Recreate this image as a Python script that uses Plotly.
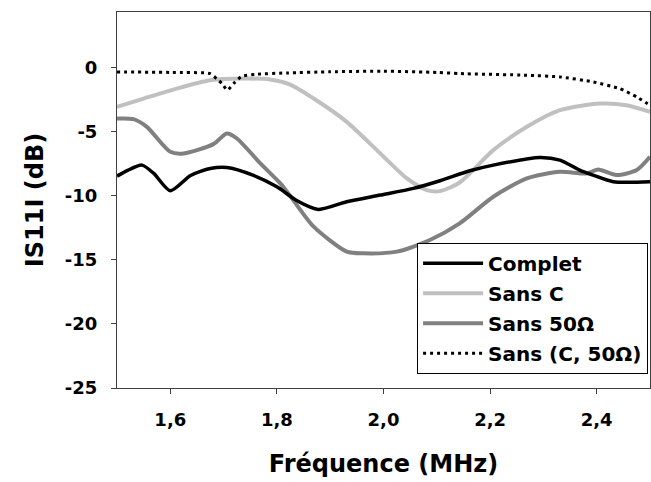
import plotly.graph_objects as go

# Fréquence (MHz) et |S11| (dB)
f_complet = [1.500, 1.520, 1.547, 1.569, 1.600, 1.638, 1.675, 1.706, 1.755, 1.800,
             1.837, 1.878, 1.931, 1.994, 2.056, 2.106, 2.162, 2.206, 2.293, 2.331,
             2.368, 2.393, 2.431, 2.500]
s11_complet = [-8.45, -8.0, -7.59, -8.24, -9.59, -8.4, -7.85, -7.77, -8.37, -9.28,
               -10.35, -11.05, -10.45, -9.93, -9.41, -8.81, -8.03, -7.59, -6.99, -7.2,
               -7.98, -8.37, -8.89, -8.89]

f_sans_c = [1.500, 1.550, 1.612, 1.675, 1.737, 1.787, 1.825, 1.869, 1.931, 1.994,
            2.044, 2.081, 2.106, 2.143, 2.206, 2.269, 2.331, 2.406, 2.456, 2.500]
s11_sans_c = [-3.04, -2.39, -1.61, -0.96, -0.83, -0.9, -1.3, -2.39, -4.21, -6.68,
              -8.63, -9.54, -9.62, -8.95, -6.42, -4.6, -3.3, -2.78, -2.91, -3.43]

f_sans_50 = [1.500, 1.531, 1.556, 1.600, 1.625, 1.681, 1.706, 1.725, 1.769, 1.806,
             1.825, 1.869, 1.931, 1.962, 2.025, 2.087, 2.143, 2.206, 2.269, 2.331,
             2.381, 2.403, 2.437, 2.475, 2.500]
s11_sans_50 = [-3.95, -4.0, -4.6, -6.55, -6.68, -5.95, -5.12, -5.51, -7.46, -9.0,
               -10.0, -12.4, -14.35, -14.48, -14.35, -13.44, -12.14, -10.06, -8.63, -8.11,
               -8.24, -7.93, -8.37, -7.98, -6.94]

f_sans_c50 = [1.500, 1.600, 1.675, 1.687, 1.697, 1.707, 1.720, 1.734, 1.762, 1.819,
              1.900, 2.000, 2.100, 2.143, 2.269, 2.331, 2.393, 2.443, 2.475, 2.500]
s11_sans_c50 = [-0.31, -0.35, -0.44, -0.85, -1.22, -1.74, -1.17, -0.65, -0.49, -0.39,
                -0.3, -0.25, -0.35, -0.44, -0.57, -0.7, -1.09, -1.61, -2.26, -2.91]

x_ticks = [1.6, 1.8, 2.0, 2.2, 2.4]
x_labels = ['1,6', '1,8', '2,0', '2,2', '2,4']
y_ticks = [0, -5, -10, -15, -20, -25]
y_labels = ['0', '-5', '-10', '-15', '-20', '-25']

police = 'DejaVu Sans'

fig = go.Figure()
fig.add_trace(go.Scatter(x=f_sans_c, y=s11_sans_c, mode='lines', name='Sans C', legendgroup='b',
                         line=dict(color='#c0c0c0', width=4, shape='spline', smoothing=0.7)))
fig.add_trace(go.Scatter(x=f_sans_50, y=s11_sans_50, mode='lines', name='Sans 50Ω', legendgroup='c',
                         line=dict(color='#808080', width=4, shape='spline', smoothing=0.7)))
fig.add_trace(go.Scatter(x=f_complet, y=s11_complet, mode='lines', name='Complet', legendgroup='a',
                         line=dict(color='black', width=3.5, shape='spline', smoothing=0.7)))
fig.add_trace(go.Scatter(x=f_sans_c50, y=s11_sans_c50, mode='lines', name='Sans (C, 50Ω)', legendgroup='d',
                         line=dict(color='black', width=3, dash='3px,4px', shape='spline', smoothing=0.5)))

fig.update_xaxes(range=[1.5, 2.5], tickvals=x_ticks, ticktext=x_labels,
                 showline=True, linecolor='#404040', linewidth=1, mirror=True,
                 ticks='outside', ticklen=5, tickcolor='#404040',
                 showgrid=False, zeroline=False, automargin=False,
                 tickfont=dict(family=police, size=18, color='black', weight='bold'),
                 ticklabelstandoff=10,
                 title=dict(text='Fréquence (MHz)', standoff=26,
                            font=dict(family=police, size=24, color='black', weight='bold')))
fig.update_yaxes(range=[-25, 4.37], tickvals=y_ticks, ticktext=y_labels,
                 showline=True, linecolor='#404040', linewidth=1, mirror=True,
                 ticks='outside', ticklen=5, tickcolor='#404040',
                 showgrid=False, zeroline=False, automargin=False,
                 tickfont=dict(family=police, size=18, color='black', weight='bold'),
                 ticklabelstandoff=10,
                 title=dict(text='IS11I (dB)', standoff=14,
                            font=dict(family=police, size=24, color='black', weight='bold')))

fig.update_layout(width=651, height=482,
                  margin=dict(l=117, r=1, t=12, b=94, autoexpand=False),
                  plot_bgcolor='white', paper_bgcolor='white',
                  showlegend=True,
                  legend=dict(x=0.563, y=0.386, xanchor='left', yanchor='top',
                              bgcolor='white', bordercolor='black', borderwidth=1,
                              traceorder='grouped', tracegroupgap=1, itemwidth=60,
                              font=dict(family=police, size=20, color='black', weight='bold')))

# ordre de la légende : Complet, Sans C, Sans 50Ω, Sans (C, 50Ω)
fig.data[2].legendrank = 1
fig.data[0].legendrank = 2
fig.data[1].legendrank = 3
fig.data[3].legendrank = 4

# pas de marge de page, pas de barres de défilement ni de barre d'outils
fig.write_html('out.html', config={'displayModeBar': False},
               post_script="document.body.style.margin='0';document.body.style.overflow='hidden';")
